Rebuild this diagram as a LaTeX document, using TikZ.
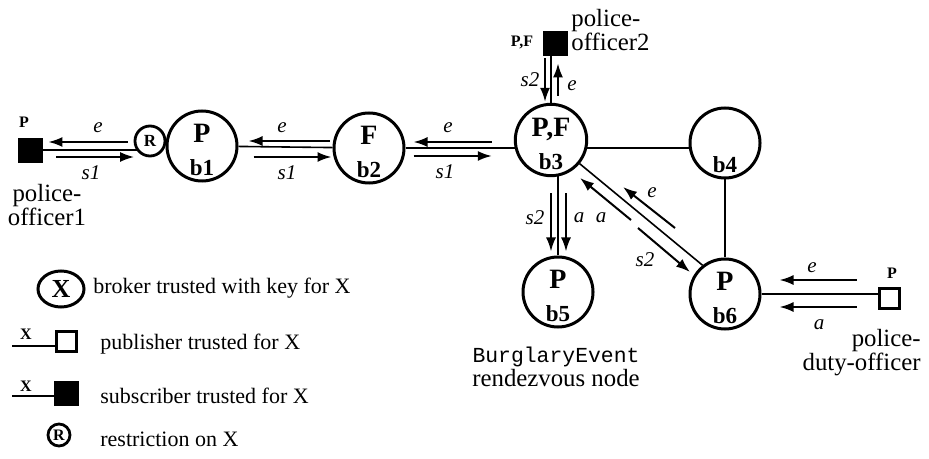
\documentclass[tikz,border=0pt]{standalone}
\usepackage{fontspec}
\setmainfont{Liberation Serif}
\setmonofont{Liberation Mono}
\usetikzlibrary{arrows.meta,backgrounds,shapes.geometric}

\begin{document}
\begin{tikzpicture}[x=0.5pt,y=-0.5pt,
		broker/.style={circle,draw,line width=1.5pt,fill=white,minimum size=35pt,inner sep=0pt,align=center,font=\bfseries\fontsize{14}{15}\selectfont},
		restr/.style={circle,draw,line width=1.4pt,fill=white,minimum size=15pt,inner sep=0pt,font=\bfseries\fontsize{8.5}{8.5}\selectfont},
		subbox/.style={draw,fill=black,minimum size=12pt,inner sep=0pt},
		pubbox/.style={draw,line width=1.5pt,fill=white,minimum size=10pt,inner sep=0pt},
		link/.style={line width=0.8pt},
		flow/.style={line width=1pt,-{Latex[length=7pt,width=5pt]}},
		lbl/.style={font=\itshape\fontsize{10.5}{10.5}\selectfont,inner sep=0pt},
		tag/.style={font=\bfseries\fontsize{8}{8}\selectfont,inner sep=0pt},
		who/.style={font=\fontsize{12.4}{12}\selectfont,inner sep=0pt},
		legtext/.style={font=\fontsize{11}{11}\selectfont,anchor=west,inner sep=0pt}]
		\useasboundingbox (0,0) rectangle (929,459);
		
		% brokers and clients
		\node[subbox] (sq1) at (30,150) {};
		\node[restr] (R) at (150,141) {R};
		\node[broker] (b1) at (202,146) {\rule{0pt}{13.5pt}P\\[1.5pt]{\fontsize{11.5}{11.5}\selectfont b1}};
		\node[broker] (b2) at (369,148) {\rule{0pt}{13.5pt}F\\[1.5pt]{\fontsize{11.5}{11.5}\selectfont b2}};
		\node[broker] (b3) at (551,140) {\rule{0pt}{13.5pt}P,F\\[1.5pt]{\fontsize{11.5}{11.5}\selectfont b3}};
		\node[broker] (b4) at (725,143) {\rule{0pt}{13.5pt}\\[1.5pt]{\fontsize{11.5}{11.5}\selectfont b4}};
		\node[broker] (b5) at (558,292) {\rule{0pt}{13.5pt}P\\[1.5pt]{\fontsize{11.5}{11.5}\selectfont b5}};
		\node[broker] (b6) at (725,294) {\rule{0pt}{13.5pt}P\\[1.5pt]{\fontsize{11.5}{11.5}\selectfont b6}};
		\node[subbox] (sq2) at (555,43) {};
		\node[pubbox] (pub) at (889,298) {};
		
		\node[tag] (tsq1) at (24,122) {P};
		\node[tag] (tsq2) at (522,43) {P,F};
		\node[tag] (tpub) at (892,273) {P};
		\node[who,align=center] (po1) at (47,205) {police-\\officer1};
		\node[who,align=left,anchor=west] (po2) at (571,30) {police-\\officer2};
		\node[who,align=right,anchor=east] (pdo) at (921,353) {police-\\duty-officer};
		\node[who,align=center] (rdv) at (556,367) {{\ttfamily\fontsize{10.7}{12}\selectfont BurglaryEvent}\\rendezvous node};
		
		% links
		\begin{scope}[on background layer]
			\draw[link] (sq1) -- (sq1 -| R);
			\draw[link] (b1) -- (b2);
			\draw[link] (b2) -- (b2 -| b3);
			\draw[link] (b2 -| b3) -- (b2 -| b4);
			\draw[link] (b3) -- (b3 |- sq2);
			\draw[link] (b5) -- (b5 |- b3);
			\draw[link] (b3) -- (b6.128);
			\draw[link] (b4) -- (b6);
			\draw[link] (b6) -- (b6 -| pub);
		\end{scope}
		
		% events and subscriptions
		\draw[flow] ([shift={(-6,1)}]R.west) -- ([shift={(6,-8)}]sq1.east);
		\draw[flow] ([shift={(14,7)}]sq1.east) -- ([shift={(0.5,16)}]R.west);
		\draw[flow] ([shift={(-3,-7)}]b2.west) -- ([shift={(10,-5)}]b1.east);
		\draw[flow] ([shift={(15,11)}]b1.east) -- ([shift={(-1,9)}]b2.west);
		\draw[flow] ([shift={(-22,2)}]b3.west) -- ([shift={(8,-6)}]b2.east);
		\draw[flow] ([shift={(8,8)}]b2.east) -- ([shift={(-22,16)}]b3.west);
		\draw[flow] ([shift={(-10,3)}]sq2.south) -- ([shift={(-6,-1)}]b3.north);
		\draw[flow] ([shift={(7,-7)}]b3.north) -- ([shift={(3,8)}]sq2.south);
		\draw[flow] ([shift={(0,16)}]b3.south) -- ([shift={(-7,-4)}]b5.north);
		\draw[flow] ([shift={(15,16)}]b3.south) -- ([shift={(8,-4)}]b5.north);
		\draw[flow] ([shift={(80,80)}]b3.center) -- ([shift={(29,38)}]b3.center);
		\draw[flow] ([shift={(-50,-66)}]b6.center) -- ([shift={(72,47)}]b3.center);
		\draw[flow] ([shift={(87,88)}]b3.center) -- ([shift={(-35,-22)}]b6.center);
		\draw[flow] ([shift={(-21,-18)}]pub.west) -- ([shift={(18,-14)}]b6.east);
		\draw[flow] ([shift={(-21,9)}]pub.west) -- ([shift={(18,13)}]b6.east);
		
		\node[lbl] (le1) at (98,128) {e};
		\node[lbl] (ls1) at (91,173) {s1};
		\node[lbl] (le2) at (282,128) {e};
		\node[lbl] (ls2) at (287,173) {s1};
		\node[lbl] (le3) at (448,128) {e};
		\node[lbl] (ls3) at (445,172) {s1};
		\node[lbl] (ls4) at (530,80) {s2};
		\node[lbl] (le4) at (572,86) {e};
		\node[lbl] (ls5) at (535,218) {s2};
		\node[lbl] (la5) at (579,218) {a};
		\node[lbl] (la6) at (601,218) {a};
		\node[lbl] (le6) at (652,193) {e};
		\node[lbl] (ls6) at (645,260) {s2};
		\node[lbl] (le7) at (812,268) {e};
		\node[lbl] (la7) at (819,325) {a};
		
		% legend
		\node[ellipse,draw,line width=1.5pt,minimum width=23pt,minimum height=18pt,inner sep=0pt,font=\bfseries\fontsize{13}{13}\selectfont] (legX) at (61,289) {X};
		\node[legtext] (tX) at (93,288) {broker trusted with key for X};
		\coordinate (pubend) at (12,346);
		\node[pubbox] (legpub) at (66,341) {};
		\draw[link] (pubend) -- (pubend -| legpub.west);
		\node[tag] (xpub) at (26,334) {X};
		\node[legtext] (tpubl) at (100,344) {publisher trusted for X};
		\coordinate (subend) at (12,396);
		\node[subbox] (legsub) at (66,393) {};
		\draw[link] (subend) -- (subend -| legsub.west);
		\node[tag] (xsub) at (26,386) {X};
		\node[legtext] (tsubl) at (100,396) {subscriber trusted for X};
		\node[restr,minimum size=11pt,font=\bfseries\fontsize{8}{8}\selectfont] (legR) at (59,435) {R};
		\node[legtext] (tR) at (100,439) {restriction on X};
	\end{tikzpicture}
\end{document}
